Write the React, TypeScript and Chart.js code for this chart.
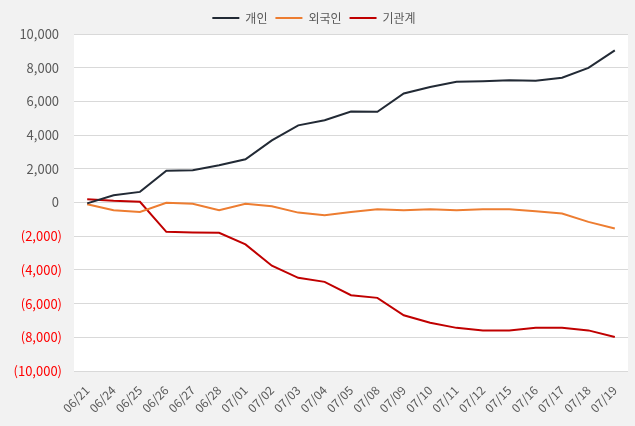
import React, { useEffect, useRef } from "react";
import { Chart, registerables } from "chart.js";

Chart.register(...registerables);

const categories = [
  "06/21", "06/24", "06/25", "06/26", "06/27", "06/28", "07/01", "07/02", "07/03", "07/04", "07/05",
  "07/08", "07/09", "07/10", "07/11", "07/12", "07/15", "07/16", "07/17", "07/18", "07/19",
];
const individual = [
  -50, 430, 630, 1880, 1920, 2210, 2570, 3690, 4580, 4880, 5400,
  5380, 6470, 6860, 7160, 7200, 7250, 7220, 7400, 7990, 9030,
];
const foreigner = [
  -100, -460, -560, -20, -80, -460, -80, -220, -600, -750, -560,
  -400, -460, -400, -460, -400, -400, -520, -650, -1150, -1540,
];
const institution = [
  200, 100, 40, -1740, -1780, -1800, -2490, -3750, -4470, -4710, -5500,
  -5660, -6690, -7140, -7440, -7590, -7590, -7440, -7440, -7590, -7980,
];
const seriesNames = ["개인", "외국인", "기관계"];
const seriesColors = ["#222a35", "#ed7d31", "#c00000"];
const yMin = -10000;
const yMax = 10000;
const yStep = 2000;

const FONT = "'Noto Sans CJK KR', 'Noto Sans', sans-serif";

const plotBg = {
  id: "plotBg",
  beforeDraw(chart: any) {
    const { ctx, chartArea } = chart;
    ctx.save();
    ctx.fillStyle = "#ffffff";
    ctx.fillRect(chartArea.left, chartArea.top, chartArea.right - chartArea.left, chartArea.bottom - chartArea.top);
    ctx.restore();
  },
};

export default function App() {
  const ref = useRef<HTMLCanvasElement>(null);
  useEffect(() => {
    document.body.style.margin = "0";
    document.body.style.background = "#f2f2f2";
    const fmt = (v: number) => Math.abs(v).toLocaleString("en-US");
    const chart = new Chart(ref.current!, {
      type: "line",
      data: {
        labels: categories,
        datasets: [individual, foreigner, institution].map((d, i) => ({
          label: seriesNames[i],
          data: d,
          borderColor: seriesColors[i],
          backgroundColor: seriesColors[i],
          borderWidth: 2,
          pointRadius: 0,
          tension: 0,
        })),
      },
      options: {
        animation: false,
        responsive: false,
        layout: { padding: { left: 0, right: 7, top: 4, bottom: 0 } },
        plugins: {
          legend: {
            position: "top",
            labels: {
              boxWidth: 27,
              boxHeight: 2,
              padding: 8,
              color: "#595959",
              font: { family: FONT, size: 12 },
              generateLabels: (chart: any) =>
                chart.data.datasets.map((ds: any, i: number) => ({
                  text: ds.label,
                  fillStyle: ds.borderColor,
                  strokeStyle: ds.borderColor,
                  lineWidth: 0,
                  fontColor: "#595959",
                  datasetIndex: i,
                  hidden: false,
                })),
            },
          },
          tooltip: { enabled: false },
        },
        scales: {
          x: {
            offset: true,
            grid: { display: false },
            border: { display: false },
            ticks: {
              autoSkip: false,
              minRotation: 45,
              maxRotation: 45,
              color: "#595959",
              font: { family: FONT, size: 12 },
              padding: 4,
            },
            afterFit: (s: any) => {
              s.height = 55;
            },
          },
          y: {
            min: yMin,
            max: yMax,
            grid: { color: "#d9d9d9", drawTicks: false, lineWidth: 1 },
            border: { display: false },
            ticks: {
              stepSize: yStep,
              padding: 12,
              color: (c: any) => (c.tick && c.tick.value < 0 ? "#ff0000" : "#595959"),
              font: { family: FONT, size: 13 },
              callback: (v: any) => (v < 0 ? `(${fmt(v)})` : `${fmt(v)} `),
            },
            afterFit: (s: any) => {
              s.width = 74;
            },
          },
        },
      },
      plugins: [plotBg],
    });
    return () => chart.destroy();
  }, []);
  return (
    <div style={{ width: 635, height: 426, background: "#f2f2f2" }}>
      <canvas ref={ref} width={635} height={426} />
    </div>
  );
}
